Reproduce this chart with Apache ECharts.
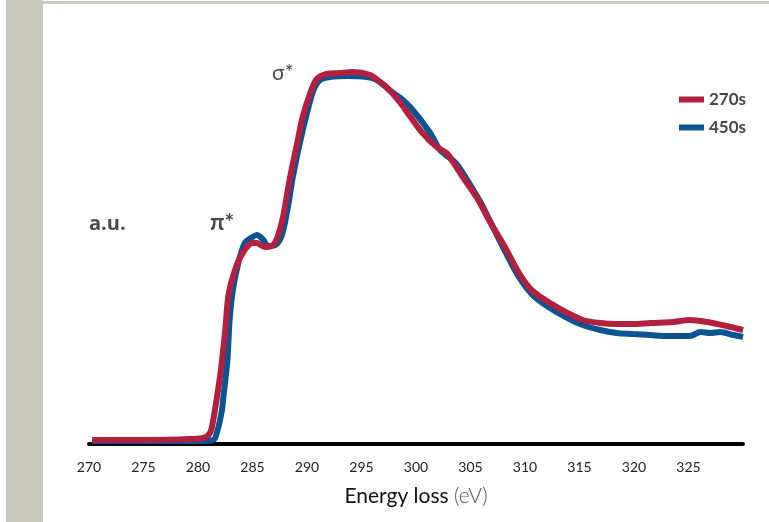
<!DOCTYPE html>
<html>
<head>
<meta charset="utf-8">
<script src="https://cdn.jsdelivr.net/npm/echarts@6/dist/echarts.min.js"></script>
<style>
	html, body { margin: 0; padding: 0; background: #fff; }
	#chart { width: 769px; height: 522px; }
</style>
</head>
<body>
<div id="chart"></div>
<script>
//data: [energy loss (eV), intensity (a.u.)]
const energy270 = [270.3, 275.6, 279.3, 280.5, 281.1, 281.4, 281.7, 282.1, 282.5, 282.8, 283.4, 284.1, 285.0, 285.4,
	285.9, 286.3, 286.9, 287.3, 287.8, 288.4, 289.1, 289.6, 290.3, 290.9, 291.8, 293.0, 294.2, 295.8, 296.7, 297.3,
	298.5, 299.5, 300.6, 301.9, 302.8, 303.4, 304.3, 305.6, 306.8, 308.2, 309.5, 310.7, 312.3, 313.9, 315.3, 316.9,
	318.4, 319.9, 321.5, 323.6, 325.1, 326.7, 328.5, 330.0];
const values270 = [1.0, 1.0, 1.25, 1.5, 2.75, 6, 11, 18.5, 28.5, 37.25, 43.5, 47.75, 50.25, 50.25,
	49.5, 49.25, 49.75, 51.75, 56.75, 66, 75.25, 81.75, 87.75, 91.25, 92.5, 92.75, 93, 92.25, 90.5, 89.25,
	85.5, 81.75, 77.75, 74.25, 72.75, 70.5, 66.75, 61.5, 55.5, 49, 42.5, 38.25, 35.25, 32.75, 31, 30.25,
	30, 30, 30.25, 30.5, 31, 30.5, 29.5, 28.5];

const energy450 = [270.3, 280.2, 281.4, 281.8, 282.2, 282.3, 282.7, 282.9, 283.2, 283.7, 284.3, 285.0, 285.4, 286.0,
	286.4, 287.1, 287.7, 288.2, 288.7, 289.4, 290.0, 290.6, 291.2, 292.1, 293.7, 295.5, 296.4, 297.9, 298.8, 299.7,
	301.3, 302.2, 303.1, 303.8, 304.7, 305.9, 307.1, 308.4, 309.5, 310.7, 312.3, 313.9, 315.3, 316.9, 318.4, 319.9,
	321.5, 323.0, 325.1, 326.1, 327.0, 327.9, 329.1, 330.0];
const values450 = [0.75, 0.75, 1.0, 3.5, 8.5, 11, 21, 31, 38.5, 45.25, 50.25, 51.75, 52.25, 51,
	49.5, 49.75, 52.25, 58.5, 66.75, 76, 82.75, 88.5, 91, 91.75, 92, 91.75, 91, 87.75, 86, 83.5,
	77.75, 73.5, 71.5, 69.75, 66, 60.5, 54, 47, 41.5, 37.25, 34, 31.5, 29.75, 28.5, 27.75, 27.5,
	27.25, 27, 27, 28, 27.75, 28, 27.25, 26.75];

const seriesNames = ['270s', '450s'];
const tickLabels = ['270', '275', '280', '285', '290', '295', '300', '305', '310', '315', '320', '325'];

const
	RED = '#b31f3e',
	BLUE = '#0a5494',
	FRAME = '#c9c9bd',
	FONT = 'Lato, "Open Sans", sans-serif';

function pairs(xs, ys) {
	return xs.map((x, i) => [x, ys[i]]);
}

let chart = echarts.init(document.getElementById('chart'), null, { renderer: 'canvas' });

chart.setOption({
	animation: false,
	backgroundColor: '#fff',
	grid: { left: 89, right: 26, top: 44, bottom: 78 },
	legend: {
		data: seriesNames,
		orient: 'vertical',
		left: 674, top: 85,
		icon: 'rect',
		itemWidth: 25, itemHeight: 6, itemGap: 9,
		textStyle: { color: '#474747', fontWeight: 'bold', fontSize: 17, fontFamily: FONT, lineHeight: 19 }
	},
	xAxis: {
		type: 'value', min: 270, max: 330, interval: 5,
		axisLine: { lineStyle: { color: '#000', width: 4 } },
		axisTick: { show: false },
		splitLine: { show: false },
		axisLabel: {
			margin: 16, fontSize: 14, color: '#222', fontFamily: FONT,
			formatter: v => tickLabels.indexOf(String(v)) >= 0 ? String(v) : ''
		},
		name: '{a|Energy loss }{b|(eV)}',
		nameLocation: 'middle', nameGap: 42,
		nameTextStyle: {
			rich: {
				a: { fontSize: 21, color: '#111', fontFamily: FONT },
				b: { fontSize: 21, color: '#555', fontFamily: FONT, fontWeight: 300 }
			}
		}
	},
	yAxis: { type: 'value', min: 0, max: 100, show: false },
	series: [
		{
			name: '450s', type: 'line', data: pairs(energy450, values450),
			smooth: 0.3, showSymbol: false, z: 2,
			itemStyle: { color: BLUE }, lineStyle: { color: BLUE, width: 6 }
		},
		{
			name: '270s', type: 'line', data: pairs(energy270, values270),
			smooth: 0.3, showSymbol: false, z: 3,
			itemStyle: { color: RED }, lineStyle: { color: RED, width: 6 }
		}
	],
	graphic: [
		{ type: 'rect', left: 6, top: 0, shape: { width: 37, height: 522 }, style: { fill: FRAME }, silent: true },
		{ type: 'rect', left: 43, top: 1, shape: { width: 726, height: 3 }, style: { fill: FRAME }, silent: true },
		{ type: 'text', left: 89, top: 214, style: { text: 'a.u.', fill: '#4a4a4a', font: 'bold 20px "Open Sans", sans-serif' } },
		{ type: 'text', left: 210, top: 211, style: { text: 'π*', fill: '#4a4a4a', font: 'bold 23px ' + FONT } },
		{ type: 'text', left: 272, top: 63, style: { text: 'σ*', fill: '#4a4a4a', font: '21px ' + FONT } }
	]
});
</script>
</body>
</html>
